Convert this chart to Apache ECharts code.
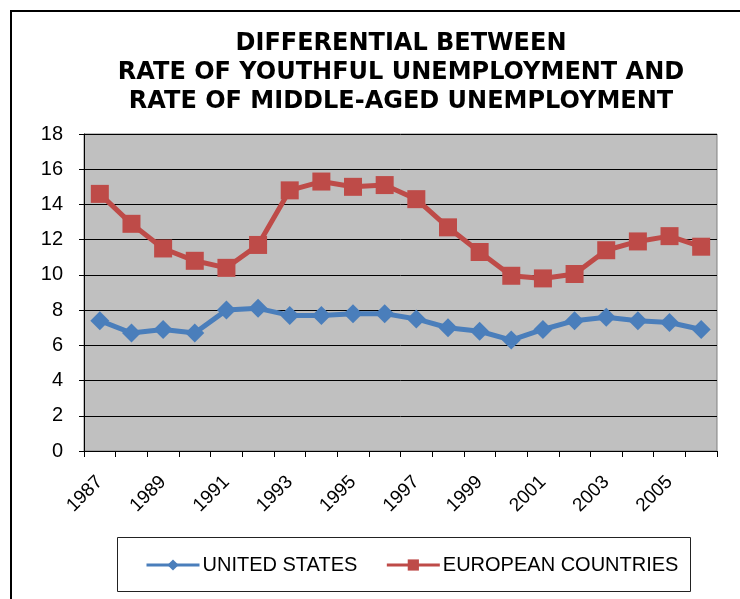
<!DOCTYPE html>
<html>
<head>
<meta charset="utf-8">
<script src="https://cdn.jsdelivr.net/npm/echarts@6/dist/echarts.min.js"></script>
<style>
  html, body { margin: 0; padding: 0; background: #fff; }
  #chart { width: 740px; height: 599px; }
</style>
</head>
<body>
<div id="chart"></div>
<script>
// years on the category axis
const years = ['1987', '1988', '1989', '1990', '1991', '1992', '1993', '1994', '1995', '1996',
    '1997', '1998', '1999', '2000', '2001', '2002', '2003', '2004', '2005', '2006']
// youth minus middle-aged unemployment rate
const unitedStates = [7.4, 6.7, 6.9, 6.7, 8.0, 8.1, 7.7, 7.7, 7.8, 7.8,
    7.5, 7.0, 6.8, 6.3, 6.9, 7.4, 7.6, 7.4, 7.3, 6.9]
const europeanCountries = [14.6, 12.9, 11.5, 10.8, 10.4, 11.7, 14.8, 15.3, 15.0, 15.1,
    14.3, 12.7, 11.3, 9.95, 9.8, 10.05, 11.4, 11.9, 12.2, 11.6]

const font = 'Liberation Sans, Arial, sans-serif'
const chart = echarts.init(document.getElementById('chart'))

chart.setOption({
    animation: false,
    backgroundColor: '#ffffff',
    title: {
        text: 'DIFFERENTIAL BETWEEN\nRATE OF YOUTHFUL UNEMPLOYMENT AND\nRATE OF MIDDLE-AGED UNEMPLOYMENT',
        left: 401,
        top: 29,
        textAlign: 'center',
        padding: 0,
        textStyle: {
            fontFamily: 'DejaVu Sans, Liberation Sans, sans-serif',
            fontSize: 24,
            fontWeight: 'bold',
            color: '#000',
            lineHeight: 29
        }
    },
    graphic: [
        {
            type: 'rect',
            shape: { x: 11, y: 11, width: 760, height: 620 },
            style: { fill: 'none', stroke: '#000', lineWidth: 2 },
            silent: true
        },
        {
            type: 'rect',
            shape: { x: 117.5, y: 537.5, width: 573, height: 54 },
            style: { fill: '#fff', stroke: '#222', lineWidth: 1 },
            silent: true,
            z: 0
        }
    ],
    legend: {
        left: 145,
        top: 555,
        padding: 0,
        itemWidth: 53,
        itemHeight: 14,
        itemGap: 28,
        z: 10,
        textStyle: { fontFamily: font, fontSize: 20, color: '#000', padding: [0, 0, 0, -2] },
        data: [
            { name: 'UNITED STATES', itemStyle: { borderWidth: 0 }, lineStyle: { width: 3 } },
            { name: 'EUROPEAN COUNTRIES', itemStyle: { borderWidth: 0 }, lineStyle: { width: 3 } }
        ]
    },
    grid: {
        left: 84,
        right: 23,
        top: 134,
        bottom: 148,
        show: true,
        backgroundColor: '#C0C0C0',
        borderColor: '#808080',
        borderWidth: 1
    },
    xAxis: {
        type: 'category',
        data: years,
        boundaryGap: true,
        axisLine: { lineStyle: { color: '#000', width: 1 } },
        axisTick: { show: true, interval: 0, length: 6, lineStyle: { color: '#000' } },
        axisLabel: {
            interval: 1,
            rotate: 45,
            margin: 28,
            fontFamily: font,
            fontSize: 19,
            color: '#000'
        },
        splitLine: { show: false }
    },
    yAxis: {
        type: 'value',
        min: 0,
        max: 18,
        interval: 2,
        axisLine: { show: true, lineStyle: { color: '#000', width: 1 } },
        axisTick: { show: true, length: 5, lineStyle: { color: '#000' } },
        axisLabel: { margin: 21, fontFamily: font, fontSize: 20, color: '#000' },
        splitLine: { lineStyle: { color: '#000', width: 1 } }
    },
    series: [
        {
            name: 'UNITED STATES',
            type: 'line',
            data: unitedStates,
            symbol: 'diamond',
            symbolSize: 19,
            itemStyle: { color: '#4A7EBB' },
            lineStyle: { color: '#4A7EBB', width: 5 }
        },
        {
            name: 'EUROPEAN COUNTRIES',
            type: 'line',
            data: europeanCountries,
            symbol: 'rect',
            symbolSize: 18,
            itemStyle: { color: '#BE4B48' },
            lineStyle: { color: '#BE4B48', width: 5 }
        }
    ]
})
</script>
</body>
</html>
